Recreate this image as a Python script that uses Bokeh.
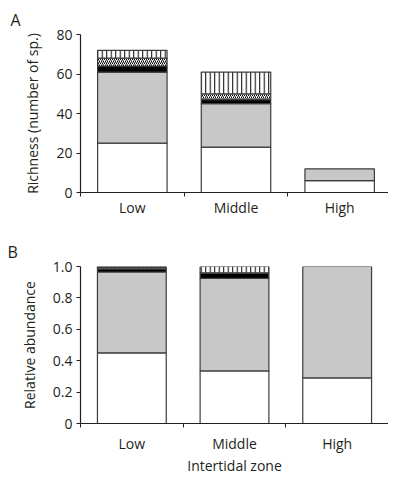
import numpy as np
from bokeh.plotting import figure
from bokeh.models import Range1d, FixedTicker, ColumnDataSource, PrintfTickFormatter
from bokeh.layouts import column
from bokeh.embed import file_html
from bokeh.resources import INLINE

# ---------------- data ----------------
zones = ["Low", "Middle", "High"]

# Panel A: richness (number of species), stacked bottom -> top
rich_white = [25, 23, 6]
rich_gray = [36, 22, 6]
rich_black = [3, 2, 0]
rich_diag = [4, 3, 0]
rich_vert = [4, 11, 0]

# Panel B: relative abundance, stacked bottom -> top
abund_white = [0.45, 0.335, 0.29]
abund_gray = [0.515, 0.59, 0.71]
abund_black = [0.02, 0.032, 0.0]
abund_diag = [0.01, 0.003, 0.0]
abund_vert = [0.005, 0.04, 0.0]

rich_ticks = [0, 20, 40, 60, 80]
abund_ticks = [0, 0.2, 0.4, 0.6, 0.8, 1.0]

# ---------------- styles ----------------
FONT = "Open Sans"
TXT = "#231f20"
EDGE = "#3c3c3c"
styles = [
    dict(fill_color="white"),
    dict(fill_color="#c8c8c9"),
    dict(fill_color="black"),
    dict(fill_color="white", hatch_pattern="right_diagonal_line", hatch_scale=4,
         hatch_weight=1, hatch_color="black"),
    dict(fill_color="white", hatch_pattern="vertical_line", hatch_scale=4.5,
         hatch_weight=1, hatch_color="black"),
]


def draw_stack(p, series):
    n = len(zones)
    bottoms = np.zeros(n)
    for vals, st in zip(series, styles):
        v = np.array(vals, dtype=float)
        mask = v > 0
        xs = (np.arange(n) + 0.5)[mask]
        src = ColumnDataSource(dict(x=xs, bottom=bottoms[mask], top=(bottoms + v)[mask]))
        p.vbar(x="x", bottom="bottom", top="top", width=0.67, source=src,
               line_color=EDGE, line_width=1.2, **st)
        bottoms = bottoms + v


def style_axes(p, yticks, ylabel, xstandoff, xlabel=None):
    p.grid.visible = False
    p.outline_line_color = None
    p.background_fill_color = "white"
    p.border_fill_color = "white"

    xa = p.xaxis[0]
    xa.ticker = FixedTicker(ticks=[i + 0.5 for i in range(len(zones))],
                            minor_ticks=list(range(len(zones) + 1)))
    xa.major_label_overrides = {i + 0.5: z for i, z in enumerate(zones)}
    xa.major_tick_in = 0
    xa.major_tick_out = 0
    xa.minor_tick_in = 0
    xa.minor_tick_out = 4
    xa.minor_tick_line_color = TXT
    xa.axis_line_color = TXT
    xa.axis_line_width = 1.2
    xa.major_label_standoff = xstandoff
    xa.major_label_text_font = FONT
    xa.major_label_text_font_size = "14px"
    xa.major_label_text_color = TXT
    if xlabel:
        xa.axis_label = xlabel
        xa.axis_label_text_font = FONT
        xa.axis_label_text_font_size = "14px"
        xa.axis_label_text_font_style = "normal"
        xa.axis_label_text_color = TXT
        xa.axis_label_standoff = 0

    ya = p.yaxis[0]
    ya.ticker = FixedTicker(ticks=yticks, minor_ticks=[])
    ya.major_tick_in = 0
    ya.major_tick_out = 4
    ya.major_tick_line_color = TXT
    ya.axis_line_color = TXT
    ya.axis_line_width = 1.2
    ya.major_label_standoff = 4
    ya.major_label_text_font = FONT
    ya.major_label_text_font_size = "14px"
    ya.major_label_text_color = TXT
    ya.axis_label = ylabel
    ya.axis_label_text_font = FONT
    ya.axis_label_text_font_size = "14px"
    ya.axis_label_text_font_style = "normal"
    ya.axis_label_text_color = TXT
    ya.axis_label_standoff = 11


def panel_title(p, text, left, standoff):
    p.title.text = text
    p.title.align = "left"
    p.title.offset = -left
    p.title.standoff = standoff
    p.title.text_font = FONT
    p.title.text_font_size = "16px"
    p.title.text_font_style = "normal"
    p.title.text_color = TXT


# ---------------- panel A ----------------
pA = figure(frame_width=311, frame_height=158, x_range=Range1d(0, 3), y_range=Range1d(0, 80),
            output_backend="svg", toolbar_location=None,
            min_border_left=77, min_border_right=0, min_border_top=34, min_border_bottom=40)
draw_stack(pA, [rich_white, rich_gray, rich_black, rich_diag, rich_vert])
style_axes(pA, rich_ticks, "Richness (number of sp.)", 1)
panel_title(pA, "A", 70, 8)

# ---------------- panel B ----------------
pB = figure(frame_width=308, frame_height=157, x_range=Range1d(0, 3), y_range=Range1d(0, 1),
            output_backend="svg", toolbar_location=None,
            min_border_left=80, min_border_right=0, min_border_top=34, min_border_bottom=49)
draw_stack(pB, [abund_white, abund_gray, abund_black, abund_diag, abund_vert])
style_axes(pB, abund_ticks, "Relative abundance", 6, "Intertidal zone")
pB.yaxis[0].formatter = PrintfTickFormatter(format="%.1f")
pB.yaxis[0].major_label_overrides = {0: "0"}
panel_title(pB, "B", 73, 8)

layout = column(pA, pB, spacing=0)
open("out.html", "w").write(file_html(layout, INLINE))
